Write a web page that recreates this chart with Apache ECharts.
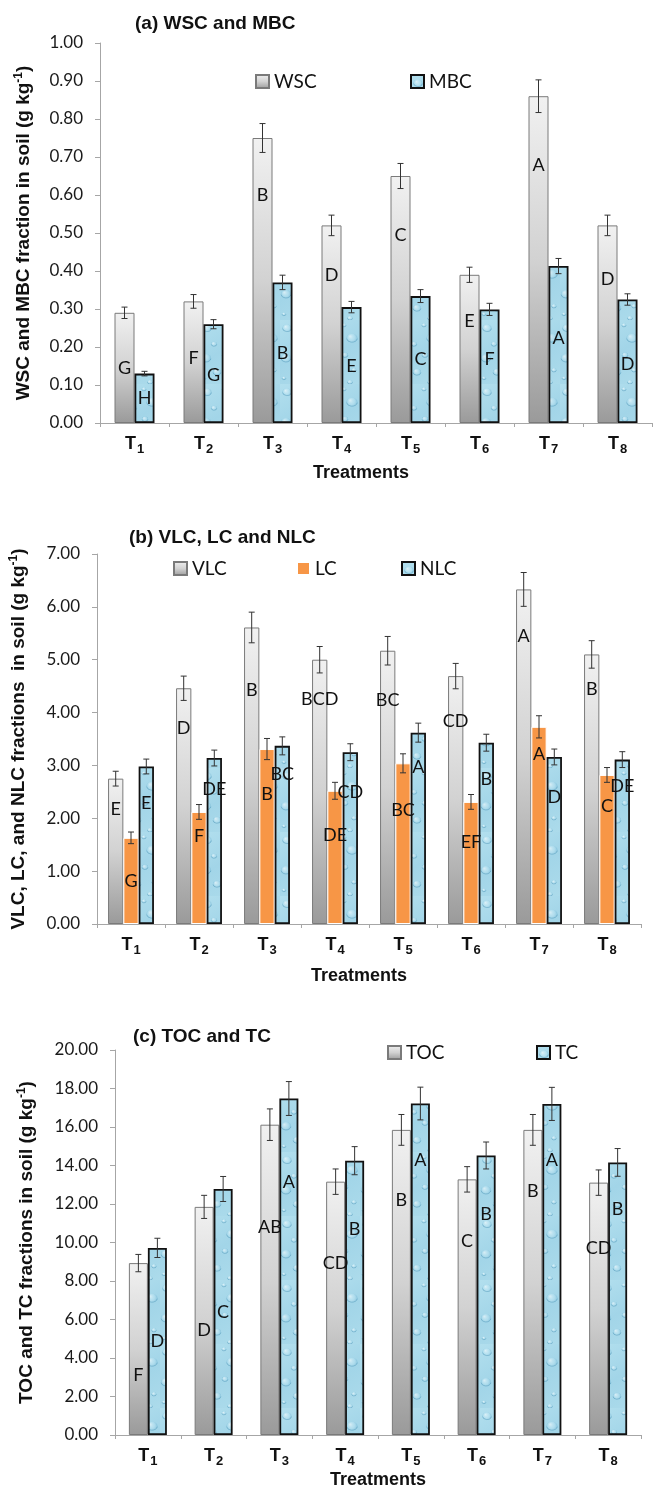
<!DOCTYPE html>
<html>
<head>
<meta charset="utf-8">
<script src="https://cdn.jsdelivr.net/npm/echarts@6.0.0/dist/echarts.min.js"></script>
<style>
  html, body { margin: 0; padding: 0; background: #fff; }
  #chart { width: 654px; height: 1491px; }
</style>
</head>
<body>
<div id="chart"></div>
<script>
// treatments on the x axis
const treatments = ['T1', 'T2', 'T3', 'T4', 'T5', 'T6', 'T7', 'T8'];

// (a) WSC and MBC (g kg-1)
const wsc = [0.29, 0.32, 0.75, 0.52, 0.65, 0.39, 0.86, 0.52];
const wscErr = [0.015, 0.018, 0.038, 0.027, 0.033, 0.02, 0.043, 0.027];
const wscLetters = ['G', 'F', 'B', 'D', 'C', 'E', 'A', 'D'];
const mbc = [0.13, 0.26, 0.37, 0.305, 0.334, 0.299, 0.413, 0.325];
const mbcErr = [0.006, 0.012, 0.019, 0.015, 0.017, 0.016, 0.02, 0.015];
const mbcLetters = ['H', 'G', 'B', 'E', 'C', 'F', 'A', 'D'];

// (b) VLC, LC and NLC (g kg-1)
const vlc = [2.75, 4.46, 5.61, 5.00, 5.17, 4.69, 6.33, 5.10];
const vlcErr = [0.14, 0.23, 0.29, 0.25, 0.27, 0.24, 0.32, 0.26];
const vlcLetters = ['E', 'D', 'B', 'BCD', 'BC', 'CD', 'A', 'B'];
const lc = [1.63, 2.12, 3.31, 2.52, 3.04, 2.31, 3.73, 2.82];
const lcErr = [0.11, 0.14, 0.2, 0.16, 0.18, 0.14, 0.21, 0.14];
const lcLetters = ['G', 'F', 'B', 'DE', 'BC', 'EF', 'A', 'C'];
const nlc = [2.98, 3.14, 3.37, 3.25, 3.62, 3.43, 3.16, 3.11];
const nlcErr = [0.14, 0.15, 0.17, 0.16, 0.18, 0.16, 0.15, 0.15];
const nlcLetters = ['E', 'DE', 'BC', 'CD', 'A', 'B', 'D', 'DE'];

// (c) TOC and TC (g kg-1)
const toc = [8.93, 11.85, 16.12, 13.16, 15.85, 13.28, 15.85, 13.11];
const tocErr = [0.45, 0.6, 0.82, 0.66, 0.8, 0.66, 0.8, 0.66];
const tocLetters = ['F', 'D', 'AB', 'CD', 'B', 'C', 'B', 'CD'];
const tc = [9.72, 12.78, 17.48, 14.25, 17.22, 14.52, 17.2, 14.16];
const tcErr = [0.5, 0.65, 0.88, 0.73, 0.85, 0.7, 0.86, 0.72];
const tcLetters = ['D', 'C', 'A', 'B', 'A', 'B', 'A', 'B'];

// where the letter sits inside each bar (share of bar height, from the top)
const letterPos = {
  WSC: [0.50, 0.47, 0.20, 0.25, 0.24, 0.31, 0.21, 0.27],
  MBC: [0.49, 0.52, 0.50, 0.51, 0.50, 0.44, 0.46, 0.52],
  VLC: [0.21, 0.17, 0.21, 0.15, 0.18, 0.18, 0.14, 0.13],
  LC: [0.50, 0.22, 0.26, 0.33, 0.29, 0.33, 0.14, 0.21],
  NLC: [0.23, 0.19, 0.16, 0.23, 0.18, 0.20, 0.24, 0.16],
  TOC: [0.65, 0.54, 0.33, 0.32, 0.23, 0.24, 0.20, 0.26],
  TC: [0.50, 0.50, 0.25, 0.25, 0.17, 0.21, 0.17, 0.17]
};

const SANS = 'Liberation Sans';
const CAL = 'Lato';

// water droplet texture for the blue bars (fixed drops, tiled)
function dropletPattern() {
  const c = document.createElement('canvas');
  c.width = 40;
  c.height = 64;
  const g = c.getContext('2d');
  const bg = g.createLinearGradient(0, 0, 40, 64);
  bg.addColorStop(0, '#b2dfee');
  bg.addColorStop(0.5, '#a2d5e8');
  bg.addColorStop(1, '#acdbeb');
  g.fillStyle = bg;
  g.fillRect(0, 0, 40, 64);
  const drops = [[7, 8, 4.5, 3.5], [24, 5, 2.2, 1.8], [32, 18, 5.5, 4.2], [14, 24, 2.8, 2.2],
    [6, 38, 5, 4], [25, 35, 3, 2.4], [34, 50, 2.4, 1.9], [17, 52, 4, 3.2], [4, 58, 2, 1.6], [30, 62, 2.6, 2]];
  drops.forEach(d => {
    const rg = g.createRadialGradient(d[0] - d[2] * 0.35, d[1] - d[3] * 0.4, 0.3, d[0], d[1], d[2]);
    rg.addColorStop(0, 'rgba(255,255,255,0.55)');
    rg.addColorStop(0.6, 'rgba(200,235,247,0.3)');
    rg.addColorStop(1, 'rgba(90,165,200,0.4)');
    g.beginPath();
    g.ellipse(d[0], d[1], d[2], d[3], 0, 0, Math.PI * 2);
    g.fillStyle = rg;
    g.fill();
    g.beginPath();
    g.ellipse(d[0], d[1], d[2], d[3], 0, 0.05 * Math.PI, 0.95 * Math.PI);
    g.strokeStyle = 'rgba(60,135,170,0.45)';
    g.lineWidth = 0.8;
    g.stroke();
  });
  return c;
}

const grayStyle = {
  color: {
    type: 'linear', x: 0, y: 0, x2: 0, y2: 1,
    colorStops: [
      { offset: 0, color: '#f1f1f1' },
      { offset: 0.5, color: '#d2d2d2' },
      { offset: 1, color: '#9a9a9a' }
    ]
  },
  borderColor: '#7a7a7a',
  borderWidth: 1
};
const blueStyle = {
  color: { image: dropletPattern(), repeat: 'repeat' },
  borderColor: '#111',
  borderWidth: 1.8
};
const orangeStyle = { color: '#f79646', borderColor: '#ffffff', borderWidth: 1 };

function barSeries(name, values, letters, grid, style, width) {
  return {
    name: name,
    type: 'bar',
    xAxisIndex: grid,
    yAxisIndex: grid,
    barWidth: width,
    barGap: '0%',
    itemStyle: style,
    label: {
      show: true,
      formatter: p => letters[p.dataIndex],
      fontFamily: CAL,
      fontSize: 18,
      color: '#111',
      align: 'center',
      verticalAlign: 'middle'
    },
    data: values.map((v, i) => ({
      value: v,
      label: { position: ['50%', (letterPos[name][i] * 100) + '%'] }
    }))
  };
}

// error bars drawn on top of each bar
function errSeries(values, errs, grid, offset) {
  return {
    type: 'custom',
    xAxisIndex: grid,
    yAxisIndex: grid,
    silent: true,
    z: 5,
    encode: { x: 0, y: 1 },
    data: values.map((v, i) => [i, v, errs[i]]),
    renderItem: (params, api) => {
      const i = api.value(0);
      const v = api.value(1);
      const e = api.value(2);
      const x = api.coord([i, v])[0] + offset;
      const yT = api.coord([i, v + e])[1];
      const yB = api.coord([i, v - e])[1];
      const st = { stroke: '#333', lineWidth: 1 };
      return {
        type: 'group',
        children: [
          { type: 'line', shape: { x1: x, y1: yT, x2: x, y2: yB }, style: st },
          { type: 'line', shape: { x1: x - 3, y1: yT, x2: x + 3, y2: yT }, style: st },
          { type: 'line', shape: { x1: x - 3, y1: yB, x2: x + 3, y2: yB }, style: st }
        ]
      };
    }
  };
}

function xAxisFor(grid, nameGap, shift) {
  return {
    gridIndex: grid,
    type: 'category',
    data: treatments,
    axisLine: { show: true, lineStyle: { color: '#a6a6a6', width: 1 } },
    axisTick: { show: true, length: 4, lineStyle: { color: '#a6a6a6' } },
    axisLabel: {
      interval: 0,
      margin: 12,
      formatter: v => '{t|T}{s|' + v.slice(1) + '}',
      rich: {
        t: { fontFamily: SANS, fontWeight: 'bold', fontSize: 18, color: '#111', lineHeight: 20, verticalAlign: 'top' },
        s: { fontFamily: SANS, fontWeight: 'bold', fontSize: 13, color: '#111', lineHeight: 14, padding: [8, 0, 0, 1], verticalAlign: 'top' }
      }
    },
    splitLine: { show: false },
    name: 'Treatments',
    nameLocation: 'middle',
    nameGap: nameGap,
    nameTextStyle: {
      fontFamily: SANS, fontWeight: 'bold', fontSize: 18, color: '#111',
      padding: [0, shift * 2, 0, 0]
    }
  };
}

function yAxisFor(grid, max, interval, label, nameGap) {
  return {
    gridIndex: grid,
    type: 'value',
    min: 0,
    max: max,
    interval: interval,
    splitLine: { show: false },
    axisLine: { show: true, lineStyle: { color: '#a6a6a6', width: 1 } },
    axisTick: { show: true, length: 5, lineStyle: { color: '#a6a6a6' } },
    axisLabel: {
      formatter: v => v.toFixed(2),
      fontFamily: CAL,
      fontSize: 17,
      color: '#1a1a1a',
      margin: 17
    },
    name: '{n|' + label + ' (g kg}{sup|-1}{n|)}',
    nameLocation: 'middle',
    nameRotate: 90,
    nameGap: nameGap,
    nameTextStyle: {
      rich: {
        n: { fontFamily: SANS, fontWeight: 'bold', fontSize: 19, color: '#111', lineHeight: 22 },
        sup: { fontFamily: SANS, fontWeight: 'bold', fontSize: 12, color: '#111', lineHeight: 12, verticalAlign: 'top' }
      }
    }
  };
}

function titleFor(text, left, top) {
  return {
    text: text, left: left, top: top, padding: 0,
    textStyle: { fontFamily: SANS, fontWeight: 'bold', fontSize: 19, color: '#111' }
  };
}

function legendFor(name, left, top) {
  return {
    data: [name], left: left, top: top, padding: 0,
    icon: 'rect', itemWidth: 13, itemHeight: 13, selectedMode: false,
    textStyle: { fontFamily: CAL, fontSize: 19, color: '#111' }
  };
}

const chart = echarts.init(document.getElementById('chart'), null, { renderer: 'canvas' });

const option = {
  backgroundColor: '#fff',
  animation: false,
  title: [
    titleFor('(a) WSC and MBC', 135, 14),
    titleFor('(b) VLC, LC and NLC', 129, 528),
    titleFor('(c) TOC and TC', 133, 1027)
  ],
  legend: [
    legendFor('WSC', 255, 72),
    legendFor('MBC', 410, 72),
    legendFor('VLC', 173, 559),
    legendFor('LC', 296, 559),
    legendFor('NLC', 401, 559),
    legendFor('TOC', 387, 1043),
    legendFor('TC', 536, 1043)
  ],
  grid: [
    { left: 100, top: 43, width: 552, height: 380, outerBoundsMode: 'none' },
    { left: 97, top: 554, width: 544, height: 370, outerBoundsMode: 'none' },
    { left: 115, top: 1050, width: 526, height: 385, outerBoundsMode: 'none' }
  ],
  xAxis: [
    xAxisFor(0, 41, 15),
    xAxisFor(1, 43, 10),
    xAxisFor(2, 36, 0)
  ],
  yAxis: [
    yAxisFor(0, 1, 0.1, 'WSC and MBC fraction in soil', 65),
    yAxisFor(1, 7, 1, 'VLC, LC, and NLC fractions  in soil', 67),
    yAxisFor(2, 20, 2, 'TOC and TC fractions in soil', 77)
  ],
  series: [
    barSeries('WSC', wsc, wscLetters, 0, grayStyle, 20),
    barSeries('MBC', mbc, mbcLetters, 0, blueStyle, 20),
    errSeries(wsc, wscErr, 0, -10),
    errSeries(mbc, mbcErr, 0, 10),

    barSeries('VLC', vlc, vlcLetters, 1, grayStyle, 15.3),
    barSeries('LC', lc, lcLetters, 1, orangeStyle, 15.3),
    barSeries('NLC', nlc, nlcLetters, 1, blueStyle, 15.3),
    errSeries(vlc, vlcErr, 1, -15.3),
    errSeries(lc, lcErr, 1, 0),
    errSeries(nlc, nlcErr, 1, 15.3),

    barSeries('TOC', toc, tocLetters, 2, grayStyle, 19),
    barSeries('TC', tc, tcLetters, 2, blueStyle, 19),
    errSeries(toc, tocErr, 2, -9.5),
    errSeries(tc, tcErr, 2, 9.5)
  ]
};

chart.setOption(option);
</script>
</body>
</html>
